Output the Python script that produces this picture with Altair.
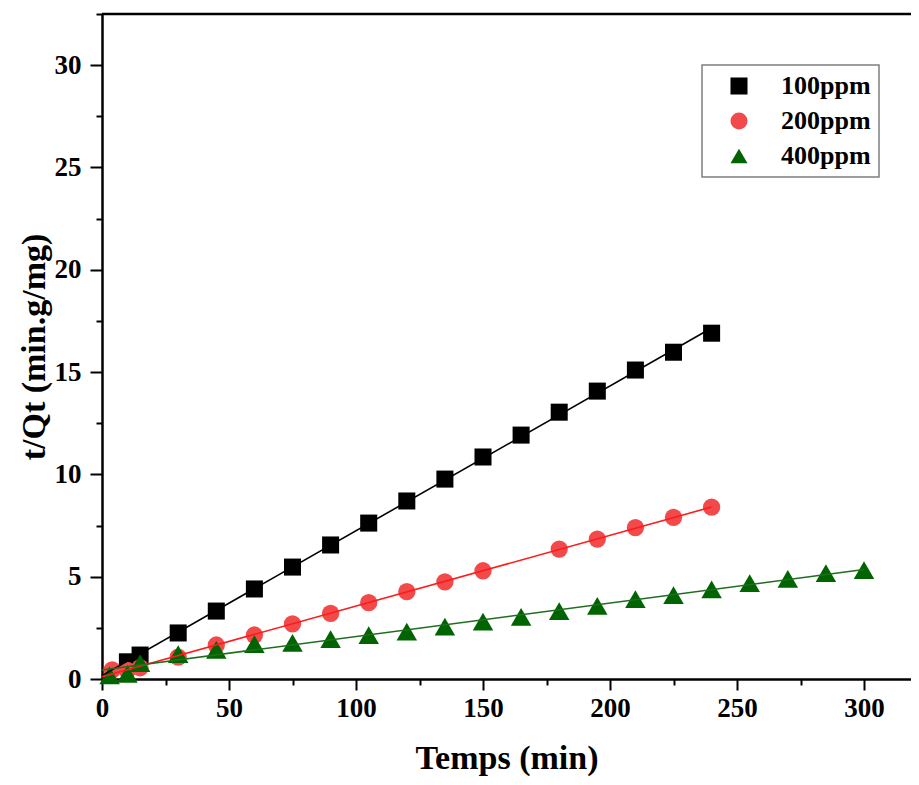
import altair as alt
import pandas as pd

series_names = ["100ppm", "200ppm", "400ppm"]

t_100 = [10, 15, 30, 45, 60, 75, 90, 105, 120, 135, 150, 165, 180, 195, 210, 225, 240]
q_100 = [0.84, 1.17, 2.25, 3.32, 4.40, 5.47, 6.55, 7.62, 8.70, 9.77, 10.85, 11.92, 13.04, 14.07, 15.10, 15.97, 16.90]

t_200 = [4, 10, 15, 30, 45, 60, 75, 90, 105, 120, 135, 150, 180, 195, 210, 225, 240]
q_200 = [0.45, 0.42, 0.55, 1.07, 1.66, 2.15, 2.69, 3.21, 3.73, 4.27, 4.75, 5.29, 6.35, 6.84, 7.40, 7.90, 8.40]

t_400 = [3, 10, 15, 30, 45, 60, 75, 90, 105, 120, 135, 150, 165, 180, 195, 210, 225, 240, 255, 270, 285, 300]
q_400 = [0.18, 0.25, 0.78, 1.22, 1.42, 1.71, 1.77, 1.95, 2.15, 2.31, 2.56, 2.80, 3.04, 3.32, 3.57, 3.90, 4.10, 4.38, 4.68, 4.89, 5.17, 5.32]

point_colors = ["#000000", "#f24a4a", "#006400"]
line_colors = ["#000000", "#ff1a1a", "#1e6e1e"]
shapes = ["square", "circle", "triangle-up"]
marker_sizes = [290, 300, 420]
fit_extents = [[0, 240], [0, 240], [0, 300]]

x_ticks = list(range(0, 301, 25))
y_ticks = [i * 2.5 for i in range(0, 14)]

rows = []
for name, ts, qs in zip(series_names, [t_100, t_200, t_400], [q_100, q_200, q_400]):
    for t, q in zip(ts, qs):
        rows.append({"series": name, "t": t, "q": q})
df = pd.DataFrame(rows)

FONT = "Liberation Serif"

x_scale = alt.Scale(domain=[0, 318.5], nice=False, zero=False)
y_scale = alt.Scale(domain=[0, 32.5], nice=False, zero=False)

x_axis = alt.Axis(
    values=x_ticks,
    labelExpr="datum.value % 50 === 0 ? format(datum.value, 'd') : ''",
    tickSize={"condition": {"test": "datum.value % 50 === 0", "value": 11}, "value": 6},
    labelPadding=5,
    title="Temps (min)", titlePadding=20,
)
y_axis = alt.Axis(
    values=y_ticks,
    labelExpr="datum.value % 5 === 0 ? format(datum.value, 'd') : ''",
    tickSize={"condition": {"test": "datum.value % 5 === 0", "value": 12}, "value": 6},
    labelPadding=9,
    title="t/Qt (min.g/mg)", titlePadding=3,
)

base = alt.Chart(df)

color_enc = alt.Color("series:N", scale=alt.Scale(domain=series_names, range=point_colors),
                      legend=alt.Legend(title=None))
shape_enc = alt.Shape("series:N", scale=alt.Scale(domain=series_names, range=shapes),
                      legend=alt.Legend(title=None))

point_layers = []
for name, sz in zip(series_names, marker_sizes):
    point_layers.append(
        base.transform_filter(alt.datum.series == name)
        .mark_point(filled=True, opacity=1, strokeWidth=0, size=sz)
        .encode(
            x=alt.X("t:Q", scale=x_scale, axis=x_axis),
            y=alt.Y("q:Q", scale=y_scale, axis=y_axis),
            color=color_enc,
            shape=shape_enc,
        )
    )

lines = []
for name, col, ext in zip(series_names, line_colors, fit_extents):
    lines.append(
        base.transform_filter(alt.datum.series == name)
        .transform_regression("t", "q", extent=ext)
        .mark_line(strokeWidth=1.6, color=col)
        .encode(x=alt.X("t:Q", scale=x_scale, axis=x_axis), y=alt.Y("q:Q", scale=y_scale, axis=y_axis))
    )

top_frame = alt.Chart(pd.DataFrame({"v": [32.5]})).mark_rule(color="black", strokeWidth=2.5).encode(
    y=alt.Y("v:Q", scale=y_scale, axis=y_axis)
)

chart = alt.layer(*point_layers, *lines, top_frame).properties(
    width=809, height=665,
    autosize=alt.AutoSizeParams(type="none"),
    padding={"left": 94, "top": 6, "right": 0, "bottom": 98},
).configure_view(stroke=None).configure_axis(
    grid=False, domainWidth=2.5, domainColor="black", tickWidth=2, tickColor="black",
    labelFont=FONT, labelFontSize=27, labelFontWeight="bold", labelColor="black",
    labelFlush=False, labelOverlap=False,
    titleFont=FONT, titleFontSize=34, titleFontWeight="bold", titleColor="black",
).configure_legend(
    orient="none", legendX=600, legendY=51,
    strokeColor="#7f7f7f", strokeWidth=1.5, fillColor="white", padding=8,
    symbolSize=290, symbolStrokeWidth=0, symbolOffset=16, labelOffset=29,
    labelFont=FONT, labelFontSize=26, labelFontWeight="bold", labelColor="black",
    rowPadding=9, labelLimit=300,
)

chart.save("out.html", embed_options={"renderer": "svg", "actions": False})
